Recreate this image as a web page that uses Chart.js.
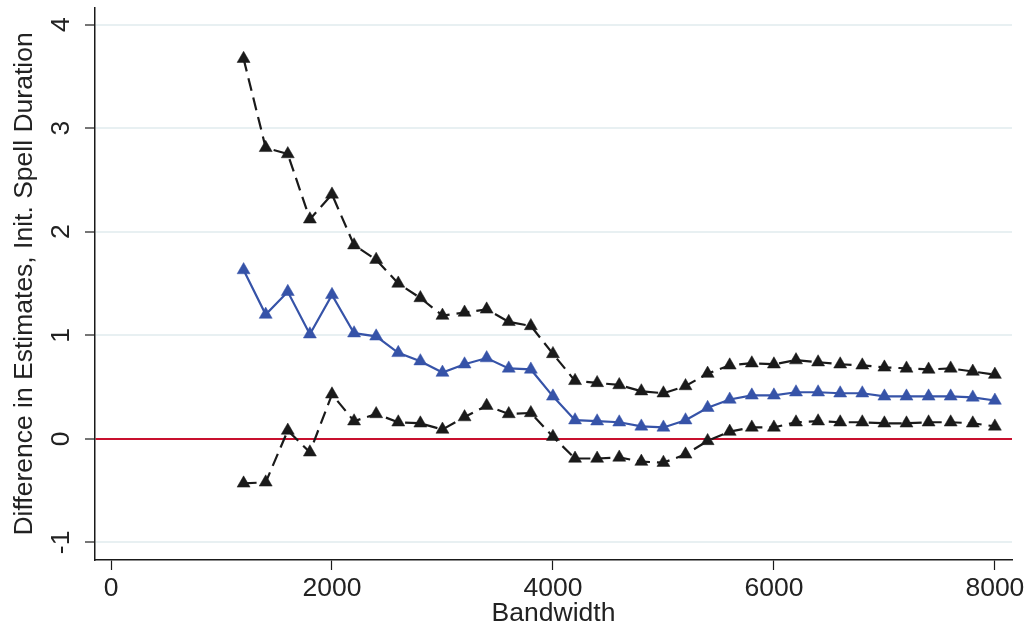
<!DOCTYPE html>
<html>
<head>
<meta charset="utf-8">
<script src="https://cdn.jsdelivr.net/npm/chart.js@4.4.1/dist/chart.umd.min.js"></script>
<style>
  html, body { margin: 0; padding: 0; background: #ffffff; }
  #wrap { width: 1031px; height: 627px; }
</style>
</head>
<body>
<div id="wrap"><canvas id="chart" width="1031" height="627"></canvas></div>
<script>
// bandwidth values on the x axis
const bandwidth = [1200, 1400, 1600, 1800, 2000, 2200, 2400, 2600, 2800, 3000,
  3200, 3400, 3600, 3800, 4000, 4200, 4400, 4600, 4800, 5000,
  5200, 5400, 5600, 5800, 6000, 6200, 6400, 6600, 6800, 7000,
  7200, 7400, 7600, 7800, 8000];

// point estimate of the difference
const estimate = [1.63, 1.20, 1.42, 1.01, 1.39, 1.02, 0.99, 0.83, 0.75, 0.64,
  0.72, 0.78, 0.68, 0.67, 0.41, 0.18, 0.17, 0.16, 0.12, 0.11,
  0.18, 0.30, 0.38, 0.42, 0.42, 0.45, 0.45, 0.44, 0.44, 0.41,
  0.41, 0.41, 0.41, 0.40, 0.37];

// upper and lower bounds of the confidence interval
const upperBound = [3.67, 2.81, 2.75, 2.12, 2.36, 1.87, 1.73, 1.50, 1.36, 1.19,
  1.22, 1.25, 1.13, 1.09, 0.82, 0.56, 0.54, 0.52, 0.46, 0.44,
  0.51, 0.63, 0.71, 0.73, 0.72, 0.76, 0.74, 0.72, 0.71, 0.69,
  0.68, 0.67, 0.68, 0.65, 0.62];

const lowerBound = [-0.43, -0.42, 0.08, -0.13, 0.43, 0.17, 0.24, 0.16, 0.15, 0.09,
  0.21, 0.32, 0.24, 0.25, 0.02, -0.19, -0.19, -0.18, -0.22, -0.23,
  -0.15, -0.02, 0.07, 0.11, 0.11, 0.16, 0.17, 0.16, 0.16, 0.15,
  0.15, 0.16, 0.16, 0.15, 0.12];

const xTicks = [0, 2000, 4000, 6000, 8000];
const yTicks = [-1, 0, 1, 2, 3, 4];

const FONT = "'Liberation Sans', Arial, Helvetica, sans-serif";
const BLUE = '#3653a8';
const BLACK = '#1a1a1a';
const RED = '#c8102e';
const GRID = '#e8f0f2';

function toPoints(ys) {
  return bandwidth.map((x, i) => ({ x: x, y: ys[i] }));
}

function boundSet(label, ys) {
  return {
    label: label,
    data: toPoints(ys),
    borderColor: BLACK,
    backgroundColor: BLACK,
    borderWidth: 2.2,
    borderDash: [13, 7],
    pointStyle: 'triangle',
    pointRadius: 7.5,
    pointBorderWidth: 0.5,
    pointBorderColor: BLACK,
    pointBackgroundColor: BLACK,
    tension: 0
  };
}

new Chart(document.getElementById('chart'), {
  type: 'line',
  data: {
    datasets: [
      boundSet('Upper', upperBound),
      boundSet('Lower', lowerBound),
      {
        label: 'Estimate',
        data: toPoints(estimate),
        borderColor: BLUE,
        backgroundColor: BLUE,
        borderWidth: 2.2,
        pointStyle: 'triangle',
        pointRadius: 7.5,
        pointBorderWidth: 0.5,
        pointBorderColor: BLUE,
        pointBackgroundColor: BLUE,
        tension: 0
      }
    ]
  },
  options: {
    responsive: false,
    animation: false,
    layout: { padding: { top: 6, right: 19, left: 0, bottom: 0 } },
    plugins: {
      legend: { display: false },
      tooltip: { enabled: false }
    },
    scales: {
      x: {
        type: 'linear',
        min: -145,
        max: 8155,
        afterBuildTicks: axis => { axis.ticks = xTicks.map(v => ({ value: v })); },
        afterFit: axis => {
          axis.height = 67;
          axis.paddingLeft = 0;
          axis.paddingRight = 0;
        },
        grid: {
          drawOnChartArea: false,
          drawTicks: true,
          tickLength: 10,
          tickColor: BLACK,
          tickWidth: 1.2
        },
        border: { color: BLACK, width: 1.5 },
        ticks: {
          color: '#222',
          padding: 3,
          maxRotation: 0,
          callback: v => String(v),
          font: { family: FONT, size: 26.5 }
        },
        title: {
          display: true,
          text: 'Bandwidth',
          color: '#222',
          padding: { top: 0, bottom: -3 },
          font: { family: FONT, size: 26.5 }
        }
      },
      y: {
        type: 'linear',
        min: -1.17,
        max: 4.16,
        afterBuildTicks: axis => { axis.ticks = yTicks.map(v => ({ value: v })); },
        afterFit: axis => {
          axis.width = 95;
          axis.paddingTop = 0;
          axis.paddingBottom = 0;
        },
        grid: {
          color: ctx => (ctx.tick && ctx.tick.value === 0) ? RED : GRID,
          lineWidth: 2,
          drawTicks: true,
          tickLength: 10,
          tickColor: BLACK,
          tickWidth: 1.2
        },
        border: { color: BLACK, width: 1.5 },
        ticks: {
          color: '#222',
          padding: 12,
          minRotation: 90,
          maxRotation: 90,
          crossAlign: 'center',
          callback: v => String(v),
          font: { family: FONT, size: 26.5 }
        },
        title: {
          display: true,
          text: 'Difference in Estimates, Init. Spell Duration',
          color: '#222',
          padding: { top: 9, bottom: 0 },
          font: { family: FONT, size: 26.5 }
        }
      }
    }
  }
});
</script>
</body>
</html>
